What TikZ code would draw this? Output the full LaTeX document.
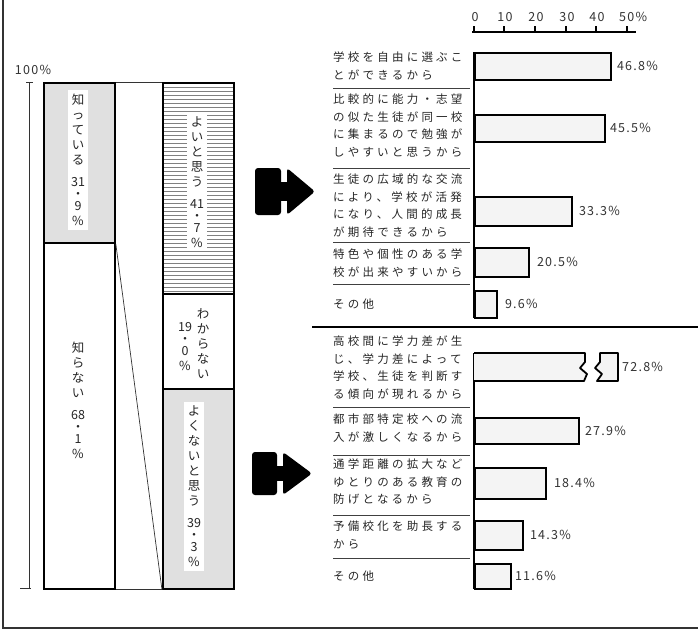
\documentclass[tikz,border=0pt]{standalone}
\usepackage{fontspec}
\newfontfamily\cjk{Noto Sans CJK JP}
\newfontfamily\cjkls[LetterSpace=28]{Noto Sans CJK JP}
\newfontfamily\numls[LetterSpace=10]{Noto Sans CJK JP}
\tikzset{
  hbar/.style={draw=black, line width=1.8pt, fill=gray!9, anchor=north west, inner sep=0, minimum width=#1},
  vbarbox/.style={draw=black, line width=1.8pt, anchor=north west, inner sep=0, minimum width=71pt},
  lbl/.style={anchor=north west, align=left, inner sep=0, text=black!85, font=\cjkls\fontsize{11.5}{17.5}\selectfont},
  val/.style={anchor=west, inner sep=0, text=black!80, font=\numls\fontsize{12.5}{14}\selectfont},
  axlbl/.style={inner sep=0, text=black!80, font=\numls\fontsize{12.5}{14}\selectfont},
  vtext/.style={align=center, inner sep=0, text=black!85, font=\cjk\fontsize{12.5}{15}\selectfont},
  strip/.style={fill=white, inner xsep=3pt, inner ysep=4pt},
  sep/.style={draw=black!75, line width=0.8pt},
  thin/.style={draw=black!80, line width=0.7pt},
  hatch/.style={draw=black!50, line width=0.5pt},
  arrowshape/.style={fill=black, rounded corners=3pt}
}
\begin{document}
\begin{tikzpicture}[x=1pt, y=-1pt]
\useasboundingbox (0,0) rectangle (698,633);
% frame
\draw[black!80, line width=1.4pt] (3,0) -- (3,628) -- (698,628);

% ---------- left stacked bars ----------
\draw[thin] (29,82) -- (29,588);
\draw[thin] (26,82) -- (33,82);
\draw[thin] (20,588) -- (31,588);
\node[axlbl] (p100) at (33,70) {100\%};

\node[vbarbox, fill=gray!24, minimum height=160pt] (k1) at (43,82) {};
\node[vbarbox, fill=white, minimum height=346pt] (k2) at (43,242) {};
\node[vbarbox, fill=white, minimum height=211pt,
  path picture={\foreach \k in {1,...,52} \draw[hatch] ([yshift=-\k*4pt]path picture bounding box.north west) -- ([yshift=-\k*4pt]path picture bounding box.north east);}] (y1) at (162,82) {};
\node[vbarbox, fill=white, minimum height=95pt] (y2) at (162,293) {};
\node[vbarbox, fill=gray!24, minimum height=200pt] (y3) at (162,388) {};

\draw[thin] (k1.north east) -- (y1.north west);
\draw[thin] (k2.south east) -- (y3.south west);
\draw[thin] (k1.south east) -- (y3.south west);

\node[vtext, strip] (t1) at (78,160) {知\\っ\\て\\い\\る\\[7pt]31\\[-3pt]・\\[-3pt]9\\\%};
\node[vtext] (t2) at (78,400) {知\\ら\\な\\い\\[7pt]68\\[-3pt]・\\[-3pt]1\\\%};
\node[vtext, strip] (t3) at (197,182) {よ\\い\\と\\思\\う\\[7pt]41\\[-3pt]・\\[-3pt]7\\\%};
\node[vtext] (t4) at (203,344) {わ\\か\\ら\\な\\い};
\node[vtext] (t5) at (185,347) {19\\[-3pt]・\\[-3pt]0\\\%};
\node[vtext, strip] (t6) at (194,486) {よ\\く\\な\\い\\と\\思\\う\\[7pt]39\\[-3pt]・\\[-3pt]3\\\%};

% ---------- arrows ----------
\fill[arrowshape] (255,168) rectangle (281,215);
\fill (279,182) rectangle (291,201);
\fill[arrowshape] (287,168) -- (315,191.5) -- (287,215) -- cycle;
\fill[arrowshape] (252,452) rectangle (277,495);
\fill (275,466) rectangle (287,481);
\fill[arrowshape] (283,452) -- (312,473.5) -- (283,495) -- cycle;

% ---------- top axis ----------
\draw[black, line width=1.8pt] (472,32) -- (636,32);
\foreach \x in {474,504,535,566,596,627} \draw[black, line width=1.5pt] (\x,32) -- (\x,26);
\node[axlbl] (l0) at (475,17) {0};
\node[axlbl] (l1) at (505,17) {10};
\node[axlbl] (l2) at (536,17) {20};
\node[axlbl] (l3) at (567,17) {30};
\node[axlbl] (l4) at (597,17) {40};
\node[axlbl, anchor=west] (l5) at (619,17) {50\%};

% ---------- upper bars ----------
\draw[black, line width=1.8pt] (474,52) -- (474,318);
\node[hbar=136pt, minimum height=27pt] (b1) at (474,52) {};
\node[hbar=130pt, minimum height=27pt] (b2) at (474,114) {};
\node[hbar=97pt, minimum height=29pt] (b3) at (474,196) {};
\node[hbar=54pt, minimum height=29pt] (b4) at (474,247) {};
\node[hbar=22pt, minimum height=27pt] (b5) at (474,290) {};
\node[val] (v1) at ([xshift=5pt]b1.east) {46.8\%};
\node[val] (v2) at ([xshift=4pt]b2.east) {45.5\%};
\node[val] (v3) at ([xshift=6pt]b3.east) {33.3\%};
\node[val] (v4) at ([xshift=7pt]b4.east) {20.5\%};
\node[val] (v5) at ([xshift=7pt]b5.east) {9.6\%};

\node[lbl] (u1) at (333,52) {学校を自由に選ぶこ\\とができるから};
\node[lbl] (u2) at (333,94) {比較的に能力・志望\\の似た生徒が同一校\\に集まるので勉強が\\しやすいと思うから};
\node[lbl] (u3) at (333,174) {生徒の広域的な交流\\により、学校が活発\\になり、人間的成長\\が期待できるから};
\node[lbl] (u4) at (333,249) {特色や個性のある学\\校が出来やすいから};
\node[lbl] (u5) at (333,299) {その他};
\foreach \y in {88,168,242,284} \draw[sep] (333,\y) -- (470,\y);

% middle separator
\draw[black, line width=2pt] (312,327) -- (698,327);

% ---------- lower bars ----------
\draw[black, line width=1.8pt] (474,353) -- (474,589);
\fill[gray!9] (474,353) -- (585,353) -- (585,362) -- (580,368) -- (587,374) -- (584,381) -- (474,381) -- cycle;
\draw[black, line width=1.8pt, line join=round] (474,353) -- (585,353) -- (585,362) -- (580,368) -- (587,374) -- (584,381) -- (474,381);
\fill[gray!9] (600,353) -- (618,353) -- (618,381) -- (597,381) -- (602,374) -- (595,368) -- (600,362) -- cycle;
\draw[black, line width=1.8pt, line join=round] (600,353) -- (618,353) -- (618,381) -- (597,381) -- (602,374) -- (595,368) -- (600,362) -- cycle;
\coordinate (b6) at (618,367);
\node[hbar=104pt, minimum height=26pt] (b7) at (474,417) {};
\node[hbar=71pt, minimum height=31pt] (b8) at (474,467) {};
\node[hbar=48pt, minimum height=29pt] (b9) at (474,520) {};
\node[hbar=36pt, minimum height=25pt] (b10) at (474,563) {};
\node[val] (v6) at ([xshift=4pt]b6) {72.8\%};
\node[val] (v7) at ([xshift=5pt]b7.east) {27.9\%};
\node[val] (v8) at ([xshift=7pt]b8.east) {18.4\%};
\node[val] (v9) at ([xshift=6pt]b9.east) {14.3\%};
\node[val] (v10) at ([xshift=3pt]b10.east) {11.6\%};

\node[lbl] (w1) at (333,336) {高校間に学力差が生\\じ、学力差によって\\学校、生徒を判断す\\る傾向が現れるから};
\node[lbl] (w2) at (333,414) {都市部特定校への流\\入が激しくなるから};
\node[lbl] (w3) at (333,459) {通学距離の拡大など\\ゆとりのある教育の\\防げとなるから};
\node[lbl] (w4) at (333,521) {予備校化を助長する\\から};
\node[lbl] (w5) at (333,571) {その他};
\foreach \y in {407,455,515,558} \draw[sep] (333,\y) -- (470,\y);
\end{tikzpicture}
\end{document}
